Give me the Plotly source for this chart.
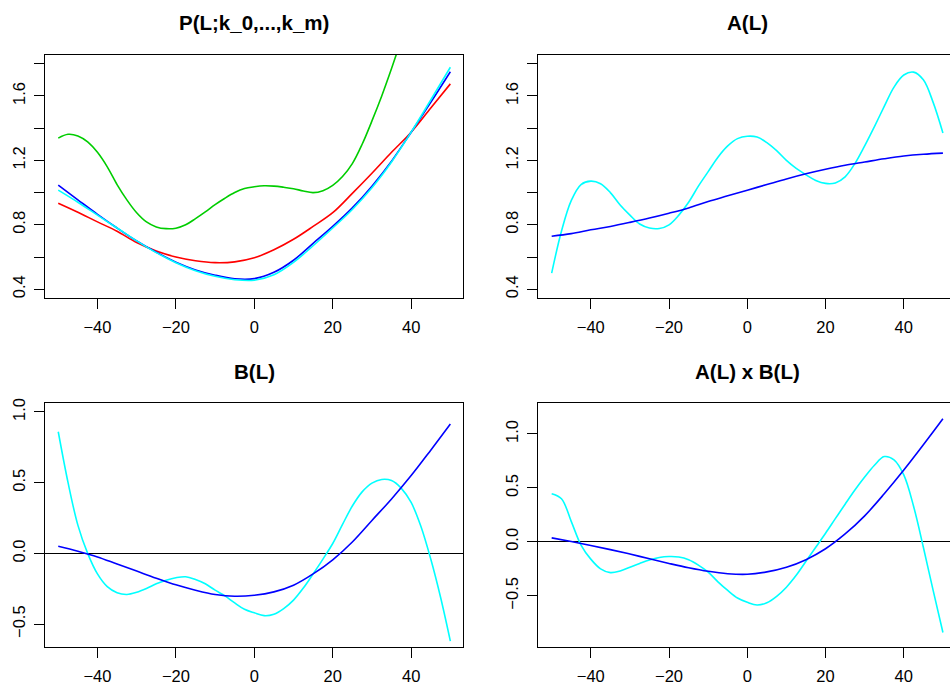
import plotly.graph_objects as go

# ---------------- data ----------------
X5 = [-50, -45, -40, -35, -30, -25, -20, -15, -10, -5, 0, 5, 10, 15, 20, 25, 30, 35, 40, 45, 50]
X25 = [-50 + 2.5 * i for i in range(41)]
X_GREEN = [-50 + 2.5 * i for i in range(37)]  # green leaves the plot near x=36

# Panel 1: P(L;k_0,...,k_m)
p_green = [1.338, 1.362, 1.352, 1.315, 1.25, 1.16, 1.05, 0.955, 0.875, 0.818, 0.787, 0.776,
           0.779, 0.80, 0.838, 0.88, 0.925, 0.965, 1.0, 1.025, 1.036, 1.042, 1.04, 1.033,
           1.024, 1.01, 1.0, 1.012, 1.045, 1.10, 1.18, 1.30, 1.445, 1.60, 1.77, 1.95, 2.14]
p_red = [0.934, 0.878, 0.818, 0.76, 0.69, 0.637, 0.60, 0.577, 0.565, 0.57, 0.595, 0.645,
         0.71, 0.79, 0.875, 0.995, 1.12, 1.25, 1.375, 1.525, 1.675]
p_blue = [1.046, 0.955, 0.865, 0.78, 0.70, 0.63, 0.568, 0.52, 0.487, 0.465, 0.466, 0.505,
          0.58, 0.685, 0.79, 0.905, 1.04, 1.195, 1.375, 1.56, 1.75]
p_cyan = [1.015, 0.94, 0.86, 0.78, 0.70, 0.627, 0.565, 0.515, 0.48, 0.459, 0.456, 0.49,
          0.567, 0.67, 0.78, 0.895, 1.03, 1.19, 1.375, 1.575, 1.778]

# Panel 2: A(L)
a_blue = [0.729, 0.745, 0.769, 0.79, 0.815, 0.842, 0.872, 0.905, 0.945, 0.98, 1.015, 1.05,
          1.085, 1.117, 1.145, 1.17, 1.19, 1.21, 1.227, 1.238, 1.245]
a_cyan = [0.50, 0.76, 0.95, 1.05, 1.071, 1.055, 1.00, 0.923, 0.86, 0.805, 0.78, 0.777,
          0.80, 0.86, 0.94, 1.04, 1.13, 1.22, 1.29, 1.335, 1.35, 1.345, 1.31, 1.26,
          1.20, 1.15, 1.11, 1.075, 1.057, 1.06, 1.098, 1.18, 1.29, 1.41, 1.535, 1.655,
          1.73, 1.748, 1.70, 1.56, 1.37]

# Panel 3: B(L)
b_blue = [0.05, 0.015, -0.025, -0.075, -0.125, -0.175, -0.222, -0.26, -0.29, -0.303, -0.296,
          -0.272, -0.225, -0.145, -0.045, 0.081, 0.233, 0.385, 0.55, 0.73, 0.915]
b_cyan = [0.86, 0.50, 0.20, 0.0, -0.145, -0.235, -0.278, -0.29, -0.275, -0.248, -0.215,
          -0.19, -0.172, -0.165, -0.185, -0.215, -0.26, -0.30, -0.35, -0.395, -0.42,
          -0.44, -0.43, -0.39, -0.33, -0.245, -0.145, -0.04, 0.07, 0.205, 0.335, 0.435,
          0.497, 0.523, 0.515, 0.46, 0.36, 0.19, -0.04, -0.31, -0.62]

# Panel 4: A(L) x B(L)
ab_blue = [0.037, 0.003, -0.033, -0.072, -0.113, -0.157, -0.20, -0.24, -0.273, -0.295, -0.30,
           -0.278, -0.235, -0.165, -0.064, 0.073, 0.241, 0.445, 0.665, 0.899, 1.14]
ab_cyan = [0.446, 0.40, 0.19, -0.03, -0.16, -0.25, -0.285, -0.27, -0.235, -0.2, -0.168,
           -0.145, -0.136, -0.14, -0.165, -0.215, -0.28, -0.37, -0.45, -0.52, -0.56,
           -0.585, -0.565, -0.505, -0.42, -0.31, -0.18, -0.05, 0.08, 0.215, 0.349, 0.48,
           0.6, 0.71, 0.79, 0.76, 0.62, 0.33, -0.05, -0.45, -0.84]

titles = ["P(L;k_0,...,k_m)", "A(L)", "B(L)", "A(L) x B(L)"]
x_ticks = [-40, -20, 0, 20, 40]
y_ticks_top = [0.4, 0.6, 0.8, 1.0, 1.2, 1.4, 1.6, 1.8]
y_text_top = ["0.4", "", "0.8", "", "1.2", "", "1.6", ""]
y_ticks_bottom = [-0.5, 0.0, 0.5, 1.0]
y_text_bottom = ["\u22120.5", "0.0", "0.5", "1.0"]

# ---------------- layout geometry (pixels) ----------------
W, H = 950, 685
GREEN, RED, BLUE, CYAN = "#00CD00", "#FF0000", "#0000FF", "#00FFFF"
FONT = "Liberation Sans, Arial, Helvetica, sans-serif"

boxes = {
    1: (45, 463.3, 50, 296),
    2: (537.7, 950, 50, 296),
    3: (45, 463.3, 402, 648),
    4: (537.7, 950, 402, 648),
}
xranges = {1: [-53.38, 53.30], 2: [-53.57, 51.81], 3: [-53.38, 53.30], 4: [-53.57, 51.81]}
yranges = {1: [0.343, 1.857], 2: [0.343, 1.857], 3: [-0.664, 1.060], 4: [-0.977, 1.282]}

fig = go.Figure()

def add(panel, xs, ys, color):
    sfx = "" if panel == 1 else str(panel)
    fig.add_trace(go.Scatter(x=xs, y=ys, mode="lines",
                             line=dict(color=color, width=1.6, shape="spline", smoothing=1.0),
                             xaxis="x" + sfx, yaxis="y" + sfx, showlegend=False,
                             hoverinfo="skip"))

add(1, X_GREEN, p_green, GREEN)
add(1, X5, p_red, RED)
add(1, X5, p_blue, BLUE)
add(1, X5, p_cyan, CYAN)
add(2, X25, a_cyan, CYAN)
add(2, X5, a_blue, BLUE)
add(3, X25, b_cyan, CYAN)
add(3, X5, b_blue, BLUE)
add(4, X25, ab_cyan, CYAN)
add(4, X5, ab_blue, BLUE)

layout = dict(width=W, height=H, autosize=False, margin=dict(l=0, r=0, t=0, b=0),
              paper_bgcolor="white", plot_bgcolor="white", showlegend=False,
              font=dict(family=FONT, color="black", size=16.5))

annotations = []
for p in range(1, 5):
    x0, x1, y0, y1 = boxes[p]
    sfx = "" if p == 1 else str(p)
    right_panel = p in (2, 4)
    layout["xaxis" + sfx] = dict(
        domain=[x0 / W, x1 / W], range=xranges[p], anchor="y" + sfx,
        showgrid=False, zeroline=False, showline=True, linecolor="black", linewidth=1,
        mirror=True, ticks="outside", ticklen=10, tickwidth=1, tickcolor="black",
        tickvals=x_ticks, ticktext=[("\u2212" + str(-v)) if v < 0 else str(v) for v in x_ticks],
        tickfont=dict(size=16.5, color="black", family=FONT), ticklabelstandoff=4,
        fixedrange=True)
    if p in (1, 2):
        tv, tt = y_ticks_top, y_text_top
    else:
        tv, tt = y_ticks_bottom, y_text_bottom
    layout["yaxis" + sfx] = dict(
        domain=[1 - y1 / H, 1 - y0 / H], range=yranges[p], anchor="x" + sfx,
        showgrid=False, showline=True, linecolor="black", linewidth=1,
        mirror=(not right_panel), ticks="outside", ticklen=10, tickwidth=1, tickcolor="black",
        tickvals=tv, ticktext=tt, tickangle=-90,
        tickfont=dict(size=16.5, color="black", family=FONT), ticklabelstandoff=2,
        zeroline=(p in (3, 4)), zerolinecolor="black", zerolinewidth=1,
        fixedrange=True)
    cx = 254.3 if p in (1, 3) else 747.3
    cy = 17.5 if p in (1, 2) else 370
    annotations.append(dict(text="<b>" + titles[p - 1] + "</b>", x=cx / W, y=1 - cy / H,
                            xref="paper", yref="paper", xanchor="center", yanchor="middle",
                            showarrow=False, font=dict(size=20.5, color="black", family=FONT)))

layout["annotations"] = annotations
fig.update_layout(**layout)
fig.write_html("out.html", config={"displayModeBar": False},
               post_script="document.body.style.margin='0';document.body.style.padding='0';")
